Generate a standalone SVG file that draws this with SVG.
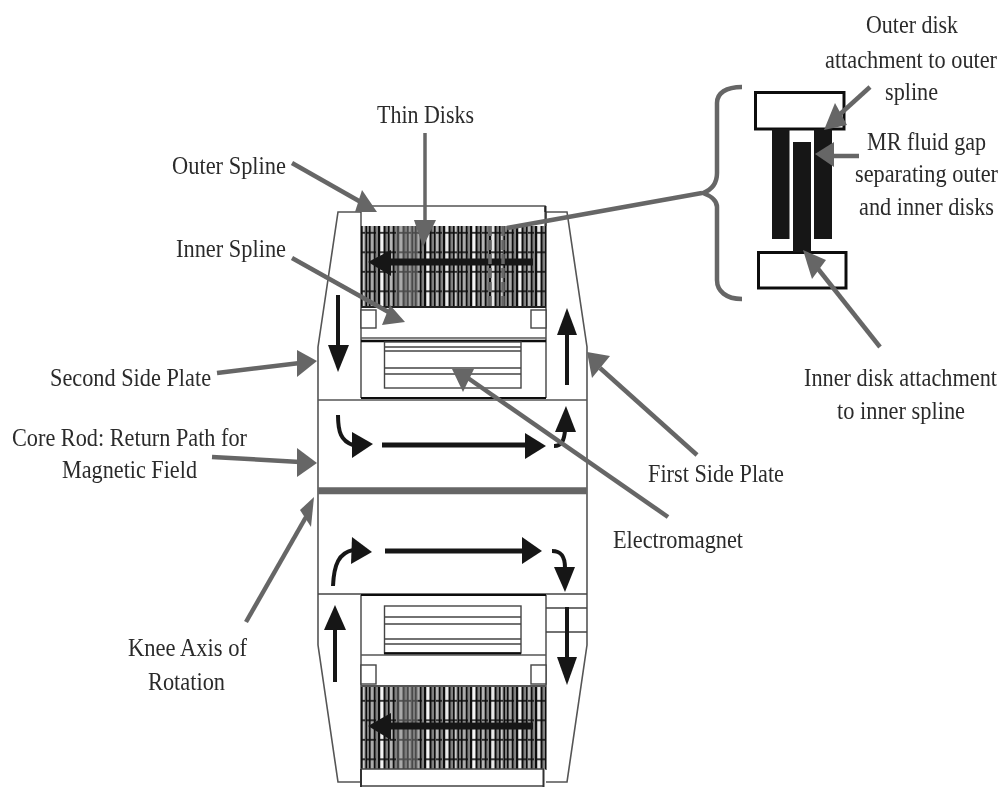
<svg xmlns="http://www.w3.org/2000/svg" width="1006" height="787" viewBox="0 0 1006 787">
<style>
text{font-family:"Liberation Serif","Times New Roman",serif;font-size:26px;fill:#2c2c2c;text-anchor:start}
.o{fill:none;stroke:#555;stroke-width:1.6}
.k{fill:none;stroke:#222;stroke-width:2}
.b{fill:#fff;stroke:#444;stroke-width:1.4}
.l{fill:none;stroke:#444;stroke-width:1.4}
.g{fill:none;stroke:#666;stroke-width:4.500}
.gh{fill:#666}
.a{fill:none;stroke:#171717;stroke-width:4}
.a2{fill:none;stroke:#171717;stroke-width:5}
.a3{fill:none;stroke:#171717;stroke-width:7}
.ah{fill:#171717}
</style>
<defs>
<filter id="soft" x="-5%" y="-5%" width="110%" height="110%"><feGaussianBlur stdDeviation="0.5"/></filter>
<filter id="softt" x="-5%" y="-20%" width="110%" height="140%"><feGaussianBlur stdDeviation="0.45"/></filter>
<pattern id="disks" x="361" y="226" width="46" height="19.500" patternUnits="userSpaceOnUse">
<rect width="46" height="19.500" fill="#808080"/>
<rect x="0" width="1.500" height="19.500" fill="#111"/><rect x="2" width="1.500" height="19.500" fill="#ccc"/>
<rect x="4.500" width="1.500" height="19.500" fill="#111"/><rect x="8" width="1.500" height="19.500" fill="#111"/>
<rect x="10" width="2" height="19.500" fill="#aaa"/><rect x="13" width="1.500" height="19.500" fill="#111"/>
<rect x="17" width="2" height="19.500" fill="#111"/><rect x="19.500" width="2.500" height="19.500" fill="#f4f4f4"/>
<rect x="23" width="1.500" height="19.500" fill="#111"/><rect x="27" width="1.500" height="19.500" fill="#111"/>
<rect x="29" width="2" height="19.500" fill="#b5b5b5"/><rect x="32" width="1.500" height="19.500" fill="#111"/>
<rect x="36" width="2" height="19.500" fill="#111"/><rect x="38.500" width="2.500" height="19.500" fill="#e8e8e8"/>
<rect x="42" width="1.500" height="19.500" fill="#111"/>
<rect y="6" width="4" height="1.600" fill="#111"/><rect x="6" y="6" width="9" height="1.600" fill="#111"/><rect x="17" y="6" width="10" height="1.600" fill="#111"/><rect x="29" y="6" width="6" height="1.600" fill="#111"/><rect x="37" y="6" width="9" height="1.600" fill="#111"/>
</pattern>
</defs>
<g id="knee-brace-body" filter="url(#soft)">
<path class="o" d="M361 212H338L318 347V645L338 782H361"/>
<path class="o" d="M546 212H567L587 347V645L567 782H546"/>
<path class="o" d="M361 212V206H545V212"/>
<path class="k" d="M545.500 206V226"/>
<path class="l" d="M361 206V398M546 212V398"/>
</g>
<g id="top-thin-disks" filter="url(#soft)">
<rect x="361" y="226" width="185" height="81" fill="url(#disks)"/>
<rect x="397" y="226" width="21" height="81" fill="#777" opacity=".55"/>
<path d="M361 307H546" stroke="#222" stroke-width="2"/>
<rect x="361" y="310" width="15" height="18" class="b"/>
<rect x="531" y="310" width="15" height="18" class="b"/>
</g>
<g id="top-electromagnet" filter="url(#soft)">
<path d="M361 338H546" stroke="#555" stroke-width="1.400"/>
<path d="M361 341H546" stroke="#111" stroke-width="2.400"/>
<rect x="384.500" y="342" width="136.500" height="46" class="b"/>
<path class="l" d="M384 347H521M384 351H521M384 368H521M384 374H521"/>
<path d="M361 398H546" stroke="#111" stroke-width="2"/>
</g>
<g id="core-rod" filter="url(#soft)">
<path d="M318 400H587" class="o"/>
<path d="M318 490.700H587" stroke="#666" stroke-width="7"/>
<path d="M318 594H587" stroke="#444" stroke-width="1.600"/>
</g>
<g id="bottom-electromagnet" filter="url(#soft)">
<path class="l" d="M361 595V770M546 595V770M546 608H587M546 632H587"/>
<path d="M361 595H546" stroke="#111" stroke-width="2"/>
<rect x="384.500" y="606" width="136.500" height="47" class="b"/>
<path class="l" d="M384 617H521M384 624H521M384 639H521M384 644H521"/>
<path d="M384 653.500H521" stroke="#111" stroke-width="2.400"/>
<path d="M361 655H546" stroke="#555" stroke-width="1.400"/>
</g>
<g id="bottom-thin-disks" filter="url(#soft)">
<rect x="361" y="665" width="15" height="19" class="b"/>
<rect x="531" y="665" width="15" height="19" class="b"/>
<rect x="361" y="686" width="185" height="83" fill="url(#disks)"/>
<rect x="397" y="686" width="21" height="83" fill="#777" opacity=".55"/>
<path d="M361 686H546" stroke="#555" stroke-width="2"/>
<path d="M361 769H544M361 786H543" stroke="#444" stroke-width="1.600"/>
<path d="M361 769V787M543.500 769V787" stroke="#333" stroke-width="2"/>
</g>
<g id="disk-detail" filter="url(#soft)">
<rect x="755.500" y="92.500" width="88.500" height="36.500" fill="#fff" stroke="#111" stroke-width="3"/>
<rect x="758.500" y="252.500" width="87.500" height="35.500" fill="#fff" stroke="#111" stroke-width="3"/>
<rect x="772" y="129" width="17.500" height="110" fill="#161616"/>
<rect x="814" y="129" width="18" height="110" fill="#161616"/>
<rect x="793" y="142" width="18" height="110" fill="#161616"/>
</g>
<g id="flux-arrows" filter="url(#soft)">
<path class="a" d="M338 295V346"/><polygon class="ah" points="328,345 349,345 338,372"/>
<path class="a" d="M567 385V334"/><polygon class="ah" points="557,335 577,335 567,308"/>
<path class="a3" d="M533 262H390"/><polygon class="ah" points="368,262 391,250 391,276"/>
<path class="a" d="M338 415C338 432 341 441 353 445"/><polygon class="ah" points="352,432 352,458 373,444"/>
<path class="a2" d="M382 445H526"/><polygon class="ah" points="525,433 525,459 546,446"/>
<path class="a" d="M554 446C562 446 564 440 565 431"/><polygon class="ah" points="555,432 576,432 566,406"/>
<path class="a" d="M333 586C334 564 339 553 353 550"/><polygon class="ah" points="352,537 351,564 372,552"/>
<path class="a2" d="M385 551H523"/><polygon class="ah" points="522,537 522,564 542,551"/>
<path class="a" d="M552 551C561 551 565 556 565 568"/><polygon class="ah" points="554,567 575,567 565,592"/>
<path class="a" d="M335 682V629"/><polygon class="ah" points="324,630 346,630 335,605"/>
<path class="a" d="M567 607V658"/><polygon class="ah" points="557,657 577,657 567,685"/>
<path class="a3" d="M533 726H390"/><polygon class="ah" points="368,726 391,713 391,740"/>
</g>
<g id="connectors" filter="url(#soft)">
<path class="g" d="M425 133V224" style="stroke-width:3.500"/><polygon class="gh" points="414,220 436,220 423,247"/>
<path class="g" d="M292 163L366 205"/><polygon class="gh" points="362,190 355,212 377,212"/>
<path class="g" d="M292 258L392 314"/><polygon class="gh" points="390,305 405,322 382,325"/>
<path class="g" d="M217 373L300 363"/><polygon class="gh" points="297,350 297,377 317,361"/>
<path class="g" d="M697 455L600 368"/><polygon class="gh" points="587,352 610,356 592,378"/>
<path class="g" d="M668 517L465 376"/><polygon class="gh" points="452,369 474,369 463,392"/>
<path class="g" d="M212 457L300 462"/><polygon class="gh" points="297,448 297,477 317,463"/>
<path class="g" d="M246 622L306 517"/><polygon class="gh" points="314,497 300,510 311,527"/>
<path class="g" d="M507 228L702 193"/>
<path class="g" d="M742 87C726 87 717 93 717 103V173C717 184 711 190 703 193C711 196 717 201 717 207V280C717 291 726 299 742 299"/>
<path class="g" d="M490 226V307M503 226V307" stroke-dasharray="10 4" style="stroke-width:3.500"/>
<path class="g" d="M870 87L838 116"/><polygon class="gh" points="824,130 835,103 847,125"/>
<path class="g" d="M859 156H830"/><polygon class="gh" points="815,154 834,142 834,167"/>
<path class="g" d="M880 347L815 265"/><polygon class="gh" points="803,250 826,260 812,279"/>
</g>
<g id="labels" filter="url(#softt)">
<text transform="translate(866 33) scale(.84 1)" textLength="109.500" lengthAdjust="spacingAndGlyphs">Outer disk</text>
<text transform="translate(825 68) scale(.84 1)" textLength="204.800" lengthAdjust="spacingAndGlyphs">attachment to outer</text>
<text transform="translate(885 100) scale(.84 1)" textLength="63.100" lengthAdjust="spacingAndGlyphs">spline</text>
<text transform="translate(867 150) scale(.84 1)" textLength="141.700" lengthAdjust="spacingAndGlyphs">MR fluid gap</text>
<text transform="translate(855 182) scale(.84 1)" textLength="170.200" lengthAdjust="spacingAndGlyphs">separating outer</text>
<text transform="translate(859 215) scale(.84 1)" textLength="160.700" lengthAdjust="spacingAndGlyphs">and inner disks</text>
<text transform="translate(804 386) scale(.84 1)" textLength="229.800" lengthAdjust="spacingAndGlyphs">Inner disk attachment</text>
<text transform="translate(837 419) scale(.84 1)" textLength="152.400" lengthAdjust="spacingAndGlyphs">to inner spline</text>
<text transform="translate(377 123) scale(.84 1)" textLength="115.500" lengthAdjust="spacingAndGlyphs">Thin Disks</text>
<text transform="translate(172 174) scale(.84 1)" textLength="135.700" lengthAdjust="spacingAndGlyphs">Outer Spline</text>
<text transform="translate(176 257) scale(.84 1)" textLength="131" lengthAdjust="spacingAndGlyphs">Inner Spline</text>
<text transform="translate(50 386) scale(.84 1)" textLength="191.700" lengthAdjust="spacingAndGlyphs">Second Side Plate</text>
<text transform="translate(12 446) scale(.84 1)" textLength="279.800" lengthAdjust="spacingAndGlyphs">Core Rod: Return Path for</text>
<text transform="translate(62 478) scale(.84 1)" textLength="160.700" lengthAdjust="spacingAndGlyphs">Magnetic Field</text>
<text transform="translate(648 482) scale(.84 1)" textLength="161.900" lengthAdjust="spacingAndGlyphs">First Side Plate</text>
<text transform="translate(613 548) scale(.84 1)" textLength="154.800" lengthAdjust="spacingAndGlyphs">Electromagnet</text>
<text transform="translate(128 656) scale(.84 1)" textLength="141.700" lengthAdjust="spacingAndGlyphs">Knee Axis of</text>
<text transform="translate(148 690) scale(.84 1)" textLength="91.700" lengthAdjust="spacingAndGlyphs">Rotation</text>
</g>
</svg>
